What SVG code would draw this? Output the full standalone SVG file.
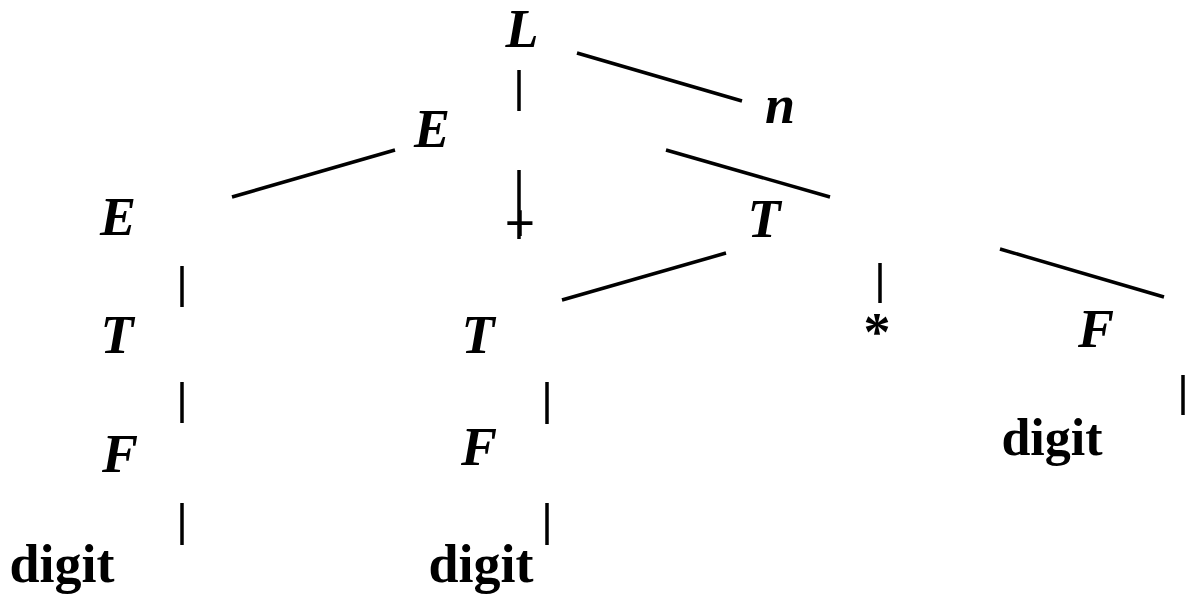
<svg xmlns="http://www.w3.org/2000/svg" width="1192" height="598" viewBox="0 0 1192 598">
<style>
.nt{font-family:"Liberation Serif","Times New Roman",serif;font-weight:bold;font-style:italic;font-size:54px;fill:#000;text-anchor:middle}
.t{font-family:"Liberation Serif","Times New Roman",serif;font-weight:bold;font-size:54px;fill:#000;text-anchor:middle}
.e{stroke:#000;stroke-width:3.5;fill:none}
</style>
<rect width="1192" height="598" fill="#fff"/>
<g id="connectors">
<line class="e" x1="577" y1="53" x2="742" y2="101"/>
<line class="e" x1="519" y1="70" x2="519" y2="111"/>
<line class="e" x1="232" y1="197" x2="395" y2="150"/>
<line class="e" x1="519" y1="170" x2="519" y2="239"/>
<line class="e" x1="666" y1="150" x2="830" y2="197"/>
<line class="e" x1="562" y1="300" x2="726" y2="253"/>
<line class="e" x1="880" y1="263" x2="880" y2="303"/>
<line class="e" x1="1000" y1="249" x2="1164" y2="297"/>
<line class="e" x1="182" y1="266" x2="182" y2="307"/>
<line class="e" x1="182" y1="382" x2="182" y2="423"/>
<line class="e" x1="182" y1="503" x2="182" y2="545"/>
<line class="e" x1="547" y1="382" x2="547" y2="424"/>
<line class="e" x1="547" y1="503" x2="547" y2="545"/>
<line class="e" x1="1183" y1="375" x2="1183" y2="415"/>
</g>
<g id="L"><text class="nt" x="522" y="47">L</text></g>
<g id="n"><text class="nt" x="780" y="123">n</text></g>
<g id="E1"><text class="nt" x="432" y="147">E</text></g>
<g id="plus"><text class="t" x="520" y="241">+</text></g>
<g id="T1"><text class="nt" x="764" y="237">T</text></g>
<g id="E2"><text class="nt" x="118" y="235">E</text></g>
<g id="T2"><text class="nt" x="117" y="353">T</text></g>
<g id="F2"><text class="nt" x="120" y="472">F</text></g>
<g id="digit1"><text class="t" x="62" y="582">digit</text></g>
<g id="T3"><text class="nt" x="478" y="353">T</text></g>
<g id="F3"><text class="nt" x="479" y="465">F</text></g>
<g id="digit2"><text class="t" x="481" y="582">digit</text></g>
<g id="star"><text class="t" x="877" y="350">*</text></g>
<g id="F1"><text class="nt" x="1096" y="347">F</text></g>
<g id="digit3"><text class="t" x="1052" y="455" style="font-size:52px">digit</text></g>
</svg>
